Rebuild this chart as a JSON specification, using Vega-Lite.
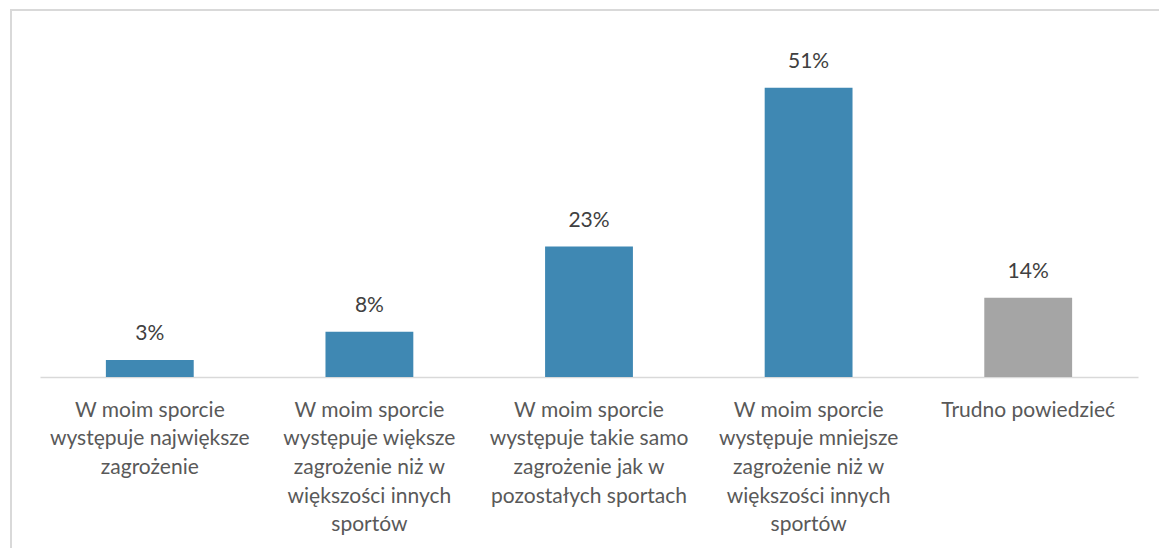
{
  "$schema": "https://vega.github.io/schema/vega-lite/v6.json",
  "width": 1150,
  "height": 540,
  "autosize": {"type": "none"},
  "padding": {"left": 11, "top": 10, "right": 0, "bottom": 0},
  "background": "white",
  "config": {
    "view": {"stroke": "#d9d9d9", "strokeWidth": 2},
    "font": "Lato"
  },
  "data": {
    "values": [
      {"category": "W moim sporcie|występuje największe|zagrożenie", "value": 0.03, "group": "a"},
      {"category": "W moim sporcie|występuje większe|zagrożenie niż w|większości innych|sportów", "value": 0.08, "group": "a"},
      {"category": "W moim sporcie|występuje takie samo|zagrożenie jak w|pozostałych sportach", "value": 0.23, "group": "a"},
      {"category": "W moim sporcie|występuje mniejsze|zagrożenie niż w|większości innych|sportów", "value": 0.51, "group": "a"},
      {"category": "Trudno powiedzieć", "value": 0.14, "group": "b"}
    ]
  },
  "encoding": {
    "x": {
      "field": "category",
      "type": "nominal",
      "sort": null,
      "scale": {"range": [29, 1127], "paddingInner": 0.6, "paddingOuter": 0.3},
      "axis": {
        "title": null,
        "orient": "bottom",
        "offset": -173,
        "labelAngle": 0,
        "labelExpr": "split(datum.label, '|')",
        "labelFont": "Lato",
        "labelFontSize": 21,
        "labelColor": "#595959",
        "labelLineHeight": 28.7,
        "labelBaseline": "top",
        "labelPadding": 22,
        "labelLimit": 0,
        "ticks": false,
        "domainColor": "#d9d9d9",
        "domainWidth": 1.5,
        "grid": false
      }
    },
    "y": {
      "field": "value",
      "type": "quantitative",
      "scale": {"domain": [-0.3051, 0.6473], "nice": false, "zero": false},
      "axis": null
    }
  },
  "layer": [
    {
      "mark": {"type": "bar"},
      "encoding": {
        "y2": {"datum": 0},
        "color": {
          "field": "group",
          "type": "nominal",
          "scale": {"domain": ["a", "b"], "range": ["#3f88b3", "#a5a5a5"]},
          "legend": null
        }
      }
    },
    {
      "mark": {"type": "text", "baseline": "middle", "dy": -26, "fontSize": 21, "color": "#404040"},
      "encoding": {
        "text": {"field": "value", "type": "quantitative", "format": ".0%"}
      }
    }
  ]
}
